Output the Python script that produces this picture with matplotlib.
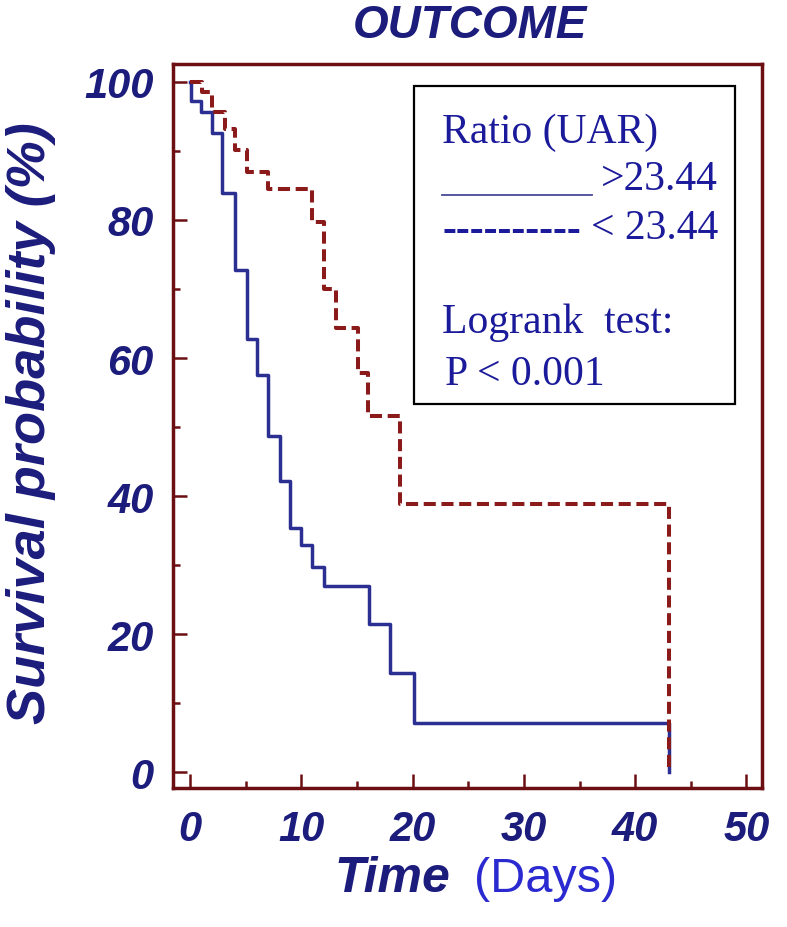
import matplotlib
matplotlib.use('Agg')
import matplotlib.pyplot as plt
from matplotlib.patches import Rectangle
from matplotlib.ticker import MultipleLocator

# Kaplan-Meier curves (time in days, survival %)
t_high = [0, 0.1, 1.0, 2.0, 2.9, 4.0, 5.1, 6.0, 7.0, 8.1, 9.0, 10.0, 11.0, 12.0, 16.1, 18.0, 20.1, 43.0]
s_high = [100, 97.3, 95.6, 92.6, 83.9, 72.8, 62.8, 57.5, 48.7, 42.2, 35.3, 32.9, 29.7, 26.9, 21.4, 14.3, 7.1, 0]

t_low = [0, 1.1, 2.0, 3.1, 4.0, 5.1, 7.0, 11.0, 12.0, 13.1, 15.1, 16.0, 18.9, 43.0]
s_low = [100, 98.5, 95.6, 93.2, 90.2, 86.9, 84.5, 79.7, 70.0, 64.4, 57.9, 51.6, 38.8, 0]

y_ticks = [0, 20, 40, 60, 80, 100]
x_ticks = [0, 10, 20, 30, 40, 50]

navy = '#1c1c7c'
maroon = '#6b0f12'
sans = 'Liberation Sans'
serif = 'Liberation Serif'

fig = plt.figure(figsize=(7.87, 9.28), dpi=100)
ax = fig.add_axes([173 / 787, 1 - 789 / 928, 589 / 787, 724 / 928])

ax.step(t_high, s_high, where='post', color='#2b2f92', lw=2.5)
ax.step(t_low, s_low, where='post', color='#8b1a1a', lw=2.9, dashes=(3, 1.4))

ax.set_xlim(-1.53, 51.4)
ax.set_ylim(-2.3, 102.6)
ax.set_xticks(x_ticks)
ax.set_yticks(y_ticks)
ax.xaxis.set_minor_locator(MultipleLocator(5))
ax.yaxis.set_minor_locator(MultipleLocator(10))
ax.tick_params(which='both', direction='in', color=maroon, width=1.8)
ax.tick_params(which='major', length=10)
ax.tick_params(which='minor', length=5)
ax.tick_params(axis='x', pad=15)
ax.tick_params(axis='y', pad=14)
for lab in ax.get_xticklabels() + ax.get_yticklabels():
    lab.set_family(sans)
    lab.set_fontsize(30)
    lab.set_fontweight('bold')
    lab.set_fontstyle('italic')
    lab.set_color(navy)
for sp in ax.spines.values():
    sp.set_color(maroon)
    sp.set_linewidth(2.5)

# legend box drawn by hand, like the original
ax.add_patch(Rectangle((0.409, 0.530), 0.545, 0.440, transform=ax.transAxes,
                       fill=False, edgecolor='black', lw=1.6, zorder=5))
leg_col = '#1a1a9a'
kw = dict(transform=ax.transAxes, family=serif, fontsize=30, color=leg_col, zorder=6)
ax.text(0.457, 0.892, 'Ratio (UAR)', ha='left', va='baseline', **kw)
ax.text(0.925, 0.827, '>23.44', ha='right', va='baseline', **kw)
ax.plot([0.457, 0.711], [0.819, 0.819], transform=ax.transAxes, color='#4a4a9a', lw=1.3, zorder=6)
ax.text(0.457, 0.757, '----------', ha='left', va='baseline', fontweight='bold', **kw)
ax.text(0.925, 0.760, '< 23.44', ha='right', va='baseline', **kw)
ax.text(0.457, 0.630, 'Logrank  test:', ha='left', va='baseline', **kw)
ax.text(0.462, 0.558, 'P < 0.001', ha='left', va='baseline', **kw)

fig.text(470 / 787, 1 - 38 / 928, 'OUTCOME', ha='center', va='baseline', family=sans,
         fontsize=33, fontweight='bold', fontstyle='italic', color=navy)
fig.text(31 / 787, 1 - 423 / 928, 'Survival probability (%)', rotation=90, ha='center', va='center',
         family=sans, fontsize=39, fontweight='bold', fontstyle='italic', color=navy)
fig.text(334 / 787, 1 - 892 / 928, 'Time', ha='left', va='baseline', family=sans,
         fontsize=36, fontweight='bold', fontstyle='italic', color=navy)
fig.text(474 / 787, 1 - 892 / 928, '(Days)', ha='left', va='baseline', family=sans,
         fontsize=35, color='#2a2ad0')

fig.savefig('out.png', dpi=100, facecolor='white')
